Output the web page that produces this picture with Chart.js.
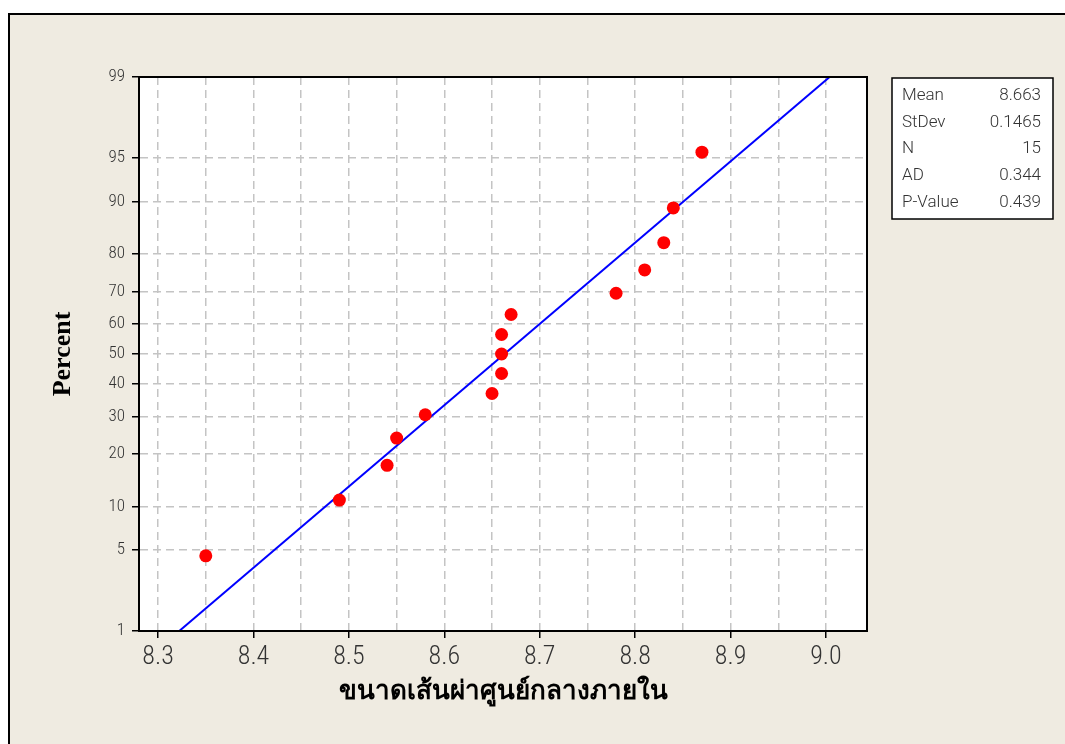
<!DOCTYPE html>
<html>
<head>
<meta charset="utf-8">
<title>Probability Plot</title>
<script src="https://cdn.jsdelivr.net/npm/chart.js@4.4.1/dist/chart.umd.min.js"></script>
<style>
  html, body { margin: 0; padding: 0; background: #fff; }
</style>
</head>
<body>
<canvas id="probPlot" width="1065" height="744"></canvas>
<script>
// sorted diameters and their plotting positions (percent)
const diameters = [8.35, 8.49, 8.54, 8.55, 8.58, 8.65, 8.66, 8.66, 8.66, 8.67, 8.78, 8.81, 8.83, 8.84, 8.87]
const percents = [4.5, 11.0, 17.5, 24.0, 30.5, 37.0, 43.5, 50.0, 56.5, 63.0, 69.5, 76.0, 82.5, 89.0, 95.5]
const percentTicks = [1, 5, 10, 20, 30, 40, 50, 60, 70, 80, 90, 95, 99]
const diameterTicks = [8.3, 8.35, 8.4, 8.45, 8.5, 8.55, 8.6, 8.65, 8.7, 8.75, 8.8, 8.85, 8.9, 8.95, 9.0]
const fitPercents = [1, 99]
const mean = 8.663
const stdev = 0.1465
const statLabels = ["Mean", "StDev", "N", "AD", "P-Value"]
const statValues = ["8.663", "0.1465", "15", "0.344", "0.439"]

const tickFont = "'Roboto Condensed', 'Roboto', sans-serif"
const boxFont = "Roboto, sans-serif"
const titleFont = "'Liberation Serif', 'DejaVu Serif', serif"

// inverse standard normal (Acklam)
function normInv(p) {
  const a = [-39.69683028665376, 220.9460984245205, -275.9285104469687, 138.357751867269, -30.66479806614716, 2.506628277459239]
  const b = [-54.47609879822406, 161.5858368580409, -155.6989798598866, 66.80131188771972, -13.28068155288572]
  const c = [-0.007784894002430293, -0.3223964580411365, -2.400758277161838, -2.549732539343734, 4.374664141464968, 2.938163982698783]
  const d = [0.007784695709041462, 0.3224671290700398, 2.445134137142996, 3.754408661907416]
  const pLow = 0.02425
  let q, r
  if (p < pLow) {
    q = Math.sqrt(-2 * Math.log(p))
    return (((((c[0] * q + c[1]) * q + c[2]) * q + c[3]) * q + c[4]) * q + c[5]) / ((((d[0] * q + d[1]) * q + d[2]) * q + d[3]) * q + 1)
  }
  if (p <= 1 - pLow) {
    q = p - 0.5
    r = q * q
    return (((((a[0] * r + a[1]) * r + a[2]) * r + a[3]) * r + a[4]) * r + a[5]) * q / (((((b[0] * r + b[1]) * r + b[2]) * r + b[3]) * r + b[4]) * r + 1)
  }
  q = Math.sqrt(-2 * Math.log(1 - p))
  return -(((((c[0] * q + c[1]) * q + c[2]) * q + c[3]) * q + c[4]) * q + c[5]) / ((((d[0] * q + d[1]) * q + d[2]) * q + d[3]) * q + 1)
}

function normCdf(z) {
  const t = 1 / (1 + 0.2316419 * Math.abs(z))
  const poly = t * (0.31938153 + t * (-0.356563782 + t * (1.781477937 + t * (-1.821255978 + t * 1.330274429))))
  const tail = Math.exp(-z * z / 2) / Math.sqrt(2 * Math.PI) * poly
  return z >= 0 ? 1 - tail : tail
}

// percent axis that is linear in the normal quantile
class ProbitScale extends Chart.LinearScale {
  static id = "probit"
  static defaults = Chart.LinearScale.defaults

  getPixelForValue(value) {
    const z0 = normInv(this.min / 100)
    const z1 = normInv(this.max / 100)
    return this.getPixelForDecimal((normInv(value / 100) - z0) / (z1 - z0))
  }

  getValueForPixel(pixel) {
    const z0 = normInv(this.min / 100)
    const z1 = normInv(this.max / 100)
    return 100 * normCdf(z0 + this.getDecimalForPixel(pixel) * (z1 - z0))
  }
}
Chart.register(ProbitScale)

const plotDecor = {
  id: "plotDecor",
  beforeDraw(chart) {
    const { ctx, chartArea: a } = chart
    ctx.save()
    ctx.fillStyle = "#efebe1"
    ctx.fillRect(8, 13, chart.width - 8, chart.height - 13)
    ctx.strokeStyle = "#000"
    ctx.lineWidth = 2
    ctx.beginPath()
    ctx.moveTo(9, chart.height)
    ctx.lineTo(9, 14)
    ctx.lineTo(chart.width, 14)
    ctx.stroke()
    ctx.fillStyle = "#fff"
    ctx.fillRect(a.left, a.top, a.right - a.left, a.bottom - a.top)
    ctx.restore()
  },
  afterDraw(chart) {
    const { ctx, chartArea: a } = chart
    ctx.save()
    ctx.strokeStyle = "#000"
    ctx.lineWidth = 2
    ctx.strokeRect(a.left, a.top, a.right - a.left, a.bottom - a.top)

    // summary statistics box
    const bx = 892, by = 78, bw = 161, bh = 141
    ctx.fillStyle = "#fff"
    ctx.fillRect(bx, by, bw, bh)
    ctx.lineWidth = 1.5
    ctx.strokeRect(bx, by, bw, bh)
    ctx.font = "300 17px " + boxFont
    ctx.fillStyle = "#333"
    ctx.textBaseline = "middle"
    statLabels.forEach((label, i) => {
      const y = by + 18 + i * 26.6
      ctx.textAlign = "left"
      ctx.fillText(label, bx + 10, y)
      ctx.textAlign = "right"
      ctx.fillText(statValues[i], bx + bw - 12, y)
    })
    ctx.restore()
  }
}

const points = diameters.map((x, i) => ({ x: x, y: percents[i] }))
const fitLine = fitPercents.map(p => ({ x: mean + stdev * normInv(p / 100), y: p }))

new Chart(document.getElementById("probPlot"), {
  type: "scatter",
  data: {
    datasets: [
      {
        type: "scatter",
        data: points,
        backgroundColor: "#ff0000",
        borderWidth: 0,
        pointRadius: 6.5,
        order: 0
      },
      {
        type: "line",
        data: fitLine,
        borderColor: "#0000ff",
        borderWidth: 2,
        pointRadius: 0,
        order: 1
      }
    ]
  },
  plugins: [plotDecor],
  options: {
    responsive: false,
    animation: false,
    layout: { padding: { left: 0, top: 77, right: 198, bottom: 0 } },
    plugins: {
      legend: { display: false },
      tooltip: { enabled: false }
    },
    scales: {
      x: {
        type: "linear",
        min: 8.28,
        max: 9.043,
        afterBuildTicks: s => { s.ticks = diameterTicks.map(v => ({ value: v })) },
        afterFit: s => { s.height = 113 },
        ticks: {
          autoSkip: false,
          maxRotation: 0,
          padding: 4,
          color: "#333",
          font: { family: tickFont, size: 26, weight: 300 },
          callback: v => (Math.abs(v * 10 - Math.round(v * 10)) < 1e-6 ? v.toFixed(1) : "")
        },
        grid: {
          color: "#c4c4c4",
          lineWidth: 1.5,
          tickLength: 7,
          tickWidth: 1.5,
          tickColor: ctx => (Math.abs(ctx.tick.value * 10 - Math.round(ctx.tick.value * 10)) < 1e-6 ? "#000" : "transparent")
        },
        border: { color: "#000", width: 2, dash: [8, 5] },
        title: {
          display: true,
          text: "ขนาดเส้นผ่าศูนย์กลางภายใน",
          color: "#000",
          font: { family: titleFont, size: 26, weight: "bold" },
          padding: { top: 0, bottom: 36 }
        }
      },
      y: {
        type: "probit",
        min: 1,
        max: 99,
        afterBuildTicks: s => { s.ticks = percentTicks.map(v => ({ value: v })) },
        afterFit: s => { s.width = 139 },
        ticks: {
          autoSkip: false,
          padding: 7,
          color: "#333",
          font: { family: tickFont, size: 17, weight: 300 },
          callback: v => String(v)
        },
        grid: {
          color: ctx => (ctx.tick.value === 1 || ctx.tick.value === 99 ? "transparent" : "#c4c4c4"),
          lineWidth: 1.5,
          tickLength: 7,
          tickWidth: 1.5,
          tickColor: "#000"
        },
        border: { color: "#000", width: 2, dash: [8, 5] },
        title: {
          display: true,
          text: "Percent",
          color: "#000",
          font: { family: titleFont, size: 26, weight: "bold" },
          padding: { top: 48, bottom: 0 }
        }
      }
    }
  }
})
</script>
</body>
</html>
